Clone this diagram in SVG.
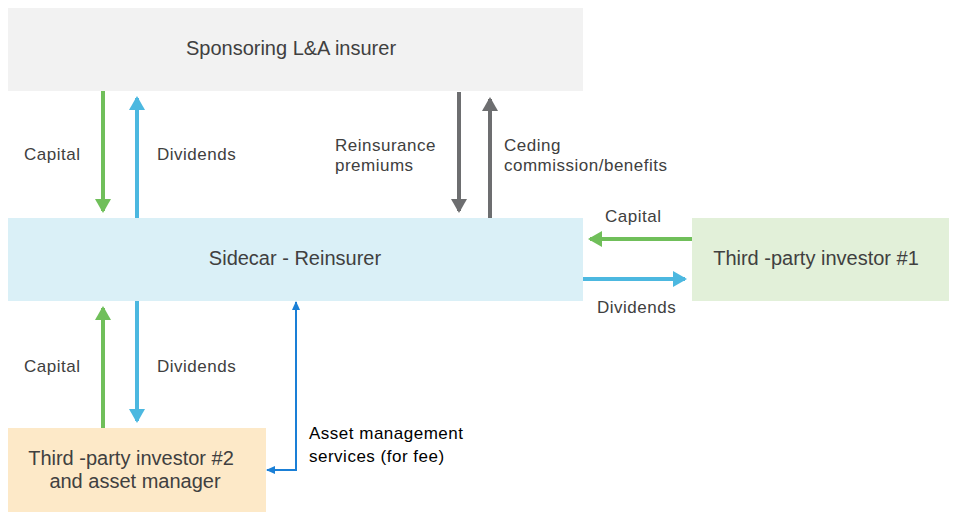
<svg xmlns="http://www.w3.org/2000/svg" width="957" height="517" viewBox="0 0 957 517">
<style>
.t{font-family:"Liberation Sans",Arial,sans-serif;font-size:20px;fill:#404040;text-anchor:middle}
.l{font-family:"Liberation Sans",Arial,sans-serif;font-size:17px;letter-spacing:0.5px;fill:#404040}
.g{stroke:#70bf5a;stroke-width:4;fill:none}
.b{stroke:#4cb8e0;stroke-width:4;fill:none}
.k{stroke:#6d6e70;stroke-width:4;fill:none}
</style>
<defs>
<marker id="mg" markerWidth="4" markerHeight="4" refX="3" refY="2" orient="auto"><path d="M0,0L3.5,2L0,4z" fill="#70bf5a"/></marker>
<marker id="mb" markerWidth="4" markerHeight="4" refX="3" refY="2" orient="auto"><path d="M0,0L3.5,2L0,4z" fill="#4cb8e0"/></marker>
<marker id="mk" markerWidth="4" markerHeight="4" refX="3" refY="2" orient="auto"><path d="M0,0L3.5,2L0,4z" fill="#6d6e70"/></marker>
<marker id="mt" markerWidth="10" markerHeight="10" refX="8" refY="4" orient="auto-start-reverse" markerUnits="userSpaceOnUse"><path d="M0,0L9,4L0,8z" fill="#1a7fd6"/></marker>
</defs>
<g id="sponsor"><rect x="8" y="8" width="575" height="83" fill="#f2f2f2"/><text class="t" x="291" y="55">Sponsoring L&amp;A insurer</text></g>
<g id="sidecar"><rect x="8" y="218" width="575" height="83" fill="#daf0f7"/><text class="t" x="295" y="265">Sidecar - Reinsurer</text></g>
<g id="investor1"><rect x="692" y="218" width="257" height="83" fill="#e2f0d9"/><text class="t" x="816" y="265">Third -party investor #1</text></g>
<g id="investor2"><rect x="8" y="428" width="258" height="84" fill="#fde9c8"/><text class="t" x="131" y="465">Third -party investor #2</text><text class="t" x="135" y="488">and asset manager</text></g>
<g id="connectors">
<line class="g" x1="103" y1="91" x2="103" y2="211" marker-end="url(#mg)"/>
<line class="b" x1="137" y1="218" x2="137" y2="98" marker-end="url(#mb)"/>
<line class="k" x1="459" y1="92" x2="459" y2="211" marker-end="url(#mk)"/>
<line class="k" x1="490" y1="218" x2="490" y2="99" marker-end="url(#mk)"/>
<line class="g" x1="692" y1="239" x2="590" y2="239" marker-end="url(#mg)"/>
<line class="b" x1="583" y1="279" x2="685" y2="279" marker-end="url(#mb)"/>
<line class="g" x1="103" y1="428" x2="103" y2="308" marker-end="url(#mg)"/>
<line class="b" x1="137" y1="301" x2="137" y2="421" marker-end="url(#mb)"/>
<polyline points="296,302 296,470 267,470" fill="none" stroke="#1a7fd6" stroke-width="2" marker-start="url(#mt)" marker-end="url(#mt)"/>
</g>
<g id="labels">
<text class="l" x="24" y="160">Capital</text>
<text class="l" x="157" y="160">Dividends</text>
<text class="l" x="335" y="151">Reinsurance</text>
<text class="l" x="335" y="171">premiums</text>
<text class="l" x="504" y="151">Ceding</text>
<text class="l" x="504" y="171">commission/benefits</text>
<text class="l" x="605" y="222">Capital</text>
<text class="l" x="597" y="313">Dividends</text>
<text class="l" x="24" y="372">Capital</text>
<text class="l" x="157" y="372">Dividends</text>
<text class="l" x="309" y="439" style="fill:#000">Asset management</text>
<text class="l" x="309" y="462" style="fill:#000">services (for fee)</text>
</g>
</svg>
